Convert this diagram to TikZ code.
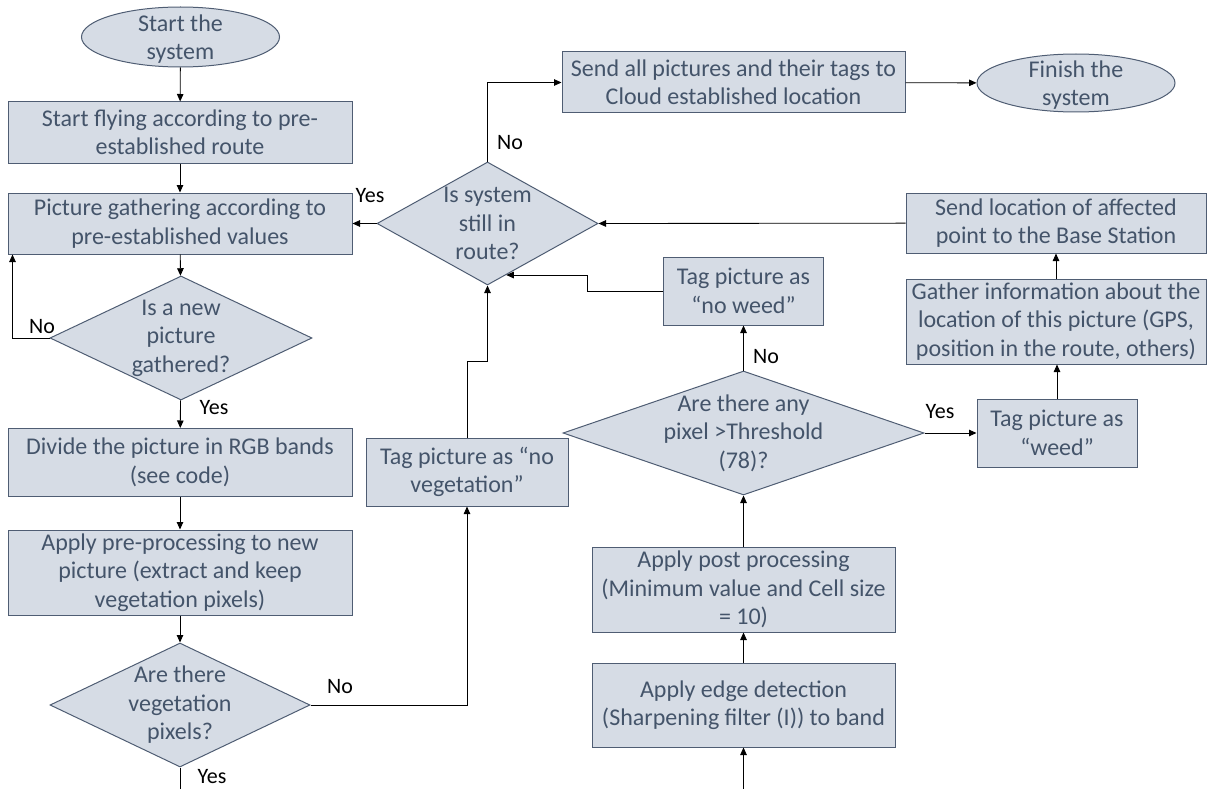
\documentclass[tikz,border=0pt]{standalone}
\usepackage{fontspec}
\setmainfont{Carlito}
\usetikzlibrary{shapes.geometric,arrows.meta}
\definecolor{boxfill}{HTML}{D6DCE5}
\definecolor{boxline}{HTML}{4F5D73}
\definecolor{boxtext}{HTML}{44546A}
\begin{document}
\begin{tikzpicture}[x=1pt,y=-1pt,
  base/.style={fill=boxfill,draw=boxline,line width=1pt,inner sep=0pt,text=boxtext,
    font=\fontsize{24}{28.5}\selectfont,align=center},
  proc/.style={base,rectangle},
  term/.style={base,ellipse},
  dec/.style={base,diamond},
  txt/.style={text=boxtext,font=\fontsize{24}{28.5}\selectfont,align=center,inner sep=0pt},
  lbl/.style={font=\fontsize{22}{26}\selectfont,text=black,inner sep=0pt},
  conn/.style={draw=black,line width=0.85pt,-{Triangle[length=7.5pt,width=6.5pt]}},
  plain/.style={draw=black,line width=0.85pt}]
\useasboundingbox (0,0) rectangle (1207,789);

% left column
\node[term,minimum width=198pt,minimum height=60pt] (start) at (180.5,37) {};
\node[txt] at ([yshift=-2pt]start.center) {Start the\\system};
\node[proc,minimum width=344pt,minimum height=61pt] (fly) at (180,132.5) {Start flying according to pre-\\established route};
\node[proc,minimum width=344pt,minimum height=61pt] (gather) at (180,223.5) {Picture gathering according to\\pre-established values};
\node[dec,minimum width=262pt,minimum height=124pt] (q1) at (181,338) {};
\node[txt] at (q1) {Is a new\\picture\\gathered?};
\node[proc,minimum width=344pt,minimum height=68pt] (divide) at (180,462.5) {Divide the picture in RGB bands\\(see code)};
\node[proc,minimum width=344pt,minimum height=85pt] (pre) at (180,572.5) {Apply pre-processing to new\\picture (extract and keep\\vegetation pixels)};
\node[dec,minimum width=260pt,minimum height=124pt] (q2) at (180,705) {};
\node[txt] at (q2) {Are there\\vegetation\\pixels?};
\coordinate (bot1) at (180,789);

% middle
\node[proc,minimum width=202pt,minimum height=68pt] (novg) at (467,472) {Tag picture as “no\\vegetation”};
\node[dec,minimum width=221pt,minimum height=123pt] (q3) at (487.5,223.5) {};
\node[txt] at (q3) {Is system\\still in\\route?};
\node[proc,minimum width=343pt,minimum height=61pt] (sendall) at (733.5,82.5) {Send all pictures and their tags to\\Cloud established location};
\node[term,minimum width=198pt,minimum height=58pt] (finish) at (1076,83) {};
\node[txt] at ([yshift=-2pt]finish.center) {Finish the\\system};

% right part
\node[proc,minimum width=300pt,minimum height=60pt] (sendloc) at (1056,223) {Send location of affected\\point to the Base Station};
\node[proc,minimum width=300pt,minimum height=85pt] (ginfo) at (1056,321.5) {Gather information about the\\location of this picture (GPS,\\position in the route, others)};
\node[proc,minimum width=160pt,minimum height=68pt] (weed) at (1057,433) {Tag picture as\\“weed”};
\node[dec,minimum width=361pt,minimum height=124pt] (q4) at (743.5,433) {};
\node[txt] at (q4) {Are there any\\pixel >Threshold\\(78)?};
\node[proc,minimum width=160pt,minimum height=68pt] (noweed) at (743.5,291) {Tag picture as\\“no weed”};
\node[proc,minimum width=303pt,minimum height=85pt] (post) at (743.5,589.5) {Apply post processing\\(Minimum value and Cell size\\= 10)};
\node[proc,minimum width=303pt,minimum height=84pt] (edge) at (743.5,705) {Apply edge detection\\(Sharpening filter (I)) to band};
\coordinate (bot2) at (743.5,789);

% connectors
\draw[conn] (start) -- (fly);
\draw[conn] (fly) -- (gather);
\draw[conn] (gather) -- (q1);
\draw[conn] (q1.west) -| ([xshift=5pt]gather.south west);
\draw[conn] (q1) -- (divide);
\draw[conn] (divide) -- (pre);
\draw[conn] (pre) -- (q2);
\draw[plain] (q2.south) -- (bot1);
\draw[conn] (q2.east) -| (novg.south);
\draw[conn] (novg.north) -- ++(0,-76) -| (q3.south);
\draw[conn] (noweed.west) -- ++(-76,0) |- (q3.-70);
\draw[conn] (q3.west) -- (gather.east);
\draw[conn] (q3.north) |- (sendall.west);
\draw[conn] (sendall) -- (finish);
\draw[conn] (sendloc) -- (q3.east);
\draw[conn] (ginfo) -- (sendloc);
\draw[conn] (weed) -- (ginfo.south -| weed.north);
\draw[conn] (q4.east) -- (weed.west);
\draw[conn] (q4.north) -- (noweed.south);
\draw[conn] (post) -- (q4.south);
\draw[conn] (edge) -- (post);
\draw[conn] (bot2) -- (edge.south);

% labels
\node[lbl] (l1) at (42,327) {No};
\node[lbl] (l2) at (214,408) {Yes};
\node[lbl] (l3) at (340,687) {No};
\node[lbl] (l4) at (212,777) {Yes};
\node[lbl] (l5) at (370,196) {Yes};
\node[lbl] (l6) at (510,143) {No};
\node[lbl] (l7) at (766,357) {No};
\node[lbl] (l8) at (940,412) {Yes};
\end{tikzpicture}
\end{document}
